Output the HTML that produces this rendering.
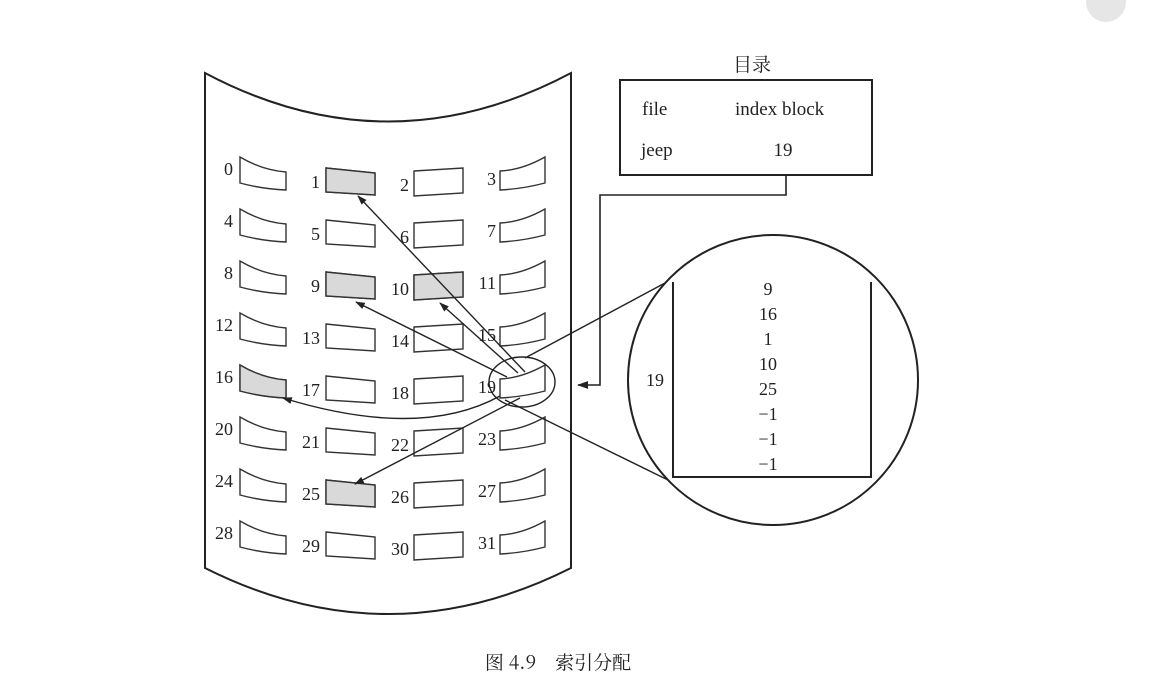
<!DOCTYPE html>
<html><head><meta charset="utf-8"><style>
html,body{margin:0;padding:0;background:#fff;}
svg{display:block;}
text{font-family:"Liberation Serif","Noto Serif CJK SC",serif;fill:#222;}
</style></head><body>
<svg width="1160" height="700" viewBox="0 0 1160 700" xmlns="http://www.w3.org/2000/svg">
<defs>
<marker id="ah" viewBox="0 0 10 10" refX="9" refY="5" markerWidth="7" markerHeight="7" orient="auto-start-reverse">
<path d="M0,1.5 L10,5 L0,8.5 Z" fill="#222"/></marker>
</defs>
<circle cx="1106" cy="2" r="20" fill="#e6e6e6"/>
<path d="M205,73 Q388,170 571,73 L571,568 Q388,660 205,568 Z" fill="#fff" stroke="#222" stroke-width="2"/>
<g stroke="#333" stroke-width="1.4">
<g id="r0">
<path d="M240,157 Q262,170 286,172 L286,190 Q262,189 240,183 Z" fill="#fff"/>
<path d="M326,168 L375,173 L375,195 L326,192 Z" fill="#fff"/>
<path d="M414,171 L463,168 L463,193 L414,196 Z" fill="#fff"/>
<path d="M500,171 Q522,170 545,157 L545,183 Q522,189 500,190 Z" fill="#fff"/>
</g>
</g>
<g stroke="#333" stroke-width="1.4">
<use href="#r0" y="52"/>
<use href="#r0" y="104"/>
<use href="#r0" y="156"/>
<use href="#r0" y="208"/>
<use href="#r0" y="260"/>
<use href="#r0" y="312"/>
<use href="#r0" y="364"/>
</g>
<g fill="#d9d9d9" stroke="#333" stroke-width="1.4">
<path d="M326,168 L375,173 L375,195 L326,192 Z"/>
<path d="M326,272 L375,277 L375,299 L326,296 Z"/>
<path d="M414,275 L463,272 L463,297 L414,300 Z"/>
<path d="M240,365 Q262,378 286,380 L286,398 Q262,397 240,391 Z"/>
<path d="M326,480 L375,485 L375,507 L326,504 Z"/>
</g>
<g font-size="18" text-anchor="end">
<text x="233" y="175">0</text><text x="320" y="188">1</text><text x="409" y="191">2</text><text x="496" y="185">3</text>
<text x="233" y="227">4</text><text x="320" y="240">5</text><text x="409" y="243">6</text><text x="496" y="237">7</text>
<text x="233" y="279">8</text><text x="320" y="292">9</text><text x="409" y="295">10</text><text x="496" y="289">11</text>
<text x="233" y="331">12</text><text x="320" y="344">13</text><text x="409" y="347">14</text><text x="496" y="341">15</text>
<text x="233" y="383">16</text><text x="320" y="396">17</text><text x="409" y="399">18</text><text x="496" y="393">19</text>
<text x="233" y="435">20</text><text x="320" y="448">21</text><text x="409" y="451">22</text><text x="496" y="445">23</text>
<text x="233" y="487">24</text><text x="320" y="500">25</text><text x="409" y="503">26</text><text x="496" y="497">27</text>
<text x="233" y="539">28</text><text x="320" y="552">29</text><text x="409" y="555">30</text><text x="496" y="549">31</text>
</g>
<g stroke="#222" stroke-width="1.4" fill="none">
<line x1="525" y1="372" x2="358" y2="196" marker-end="url(#ah)"/>
<line x1="518" y1="373" x2="440" y2="303" marker-end="url(#ah)"/>
<line x1="507" y1="377" x2="356" y2="302" marker-end="url(#ah)"/>
<path d="M500,396 Q420,440 283,398" marker-end="url(#ah)"/>
<line x1="520" y1="398" x2="355" y2="484" marker-end="url(#ah)"/>
<ellipse cx="522" cy="382" rx="33" ry="25"/>
</g>
<text x="752" y="71" font-size="19" text-anchor="middle">目录</text>
<rect x="620" y="80" width="252" height="95" fill="#fff" stroke="#222" stroke-width="2"/>
<g font-size="19">
<text x="642" y="115">file</text><text x="735" y="115">index block</text>
<text x="641" y="156">jeep</text><text x="783" y="156" text-anchor="middle">19</text>
</g>
<polyline points="786,175 786,195 600,195 600,385 578,385" fill="none" stroke="#222" stroke-width="1.6" marker-end="url(#ah)"/>
<circle cx="773" cy="380" r="145" fill="#fff" stroke="#222" stroke-width="2"/>
<g stroke="#222" stroke-width="1.4">
<line x1="525" y1="358" x2="665" y2="283"/>
<line x1="505" y1="400" x2="668" y2="480"/>
</g>
<polyline points="673,282 673,477 871,477 871,282" fill="none" stroke="#222" stroke-width="2"/>
<text x="655" y="386" font-size="18" text-anchor="middle">19</text>
<g font-size="18" text-anchor="middle">
<text x="768" y="295">9</text><text x="768" y="320">16</text><text x="768" y="345">1</text>
<text x="768" y="370">10</text><text x="768" y="395">25</text><text x="768" y="420">−1</text>
<text x="768" y="445">−1</text><text x="768" y="470">−1</text>
</g>
<text x="558" y="669" font-size="19" text-anchor="middle" style="font-family:'Noto Serif CJK SC','Liberation Serif',serif">图 4.9　索引分配</text>
</svg>
</body></html>
